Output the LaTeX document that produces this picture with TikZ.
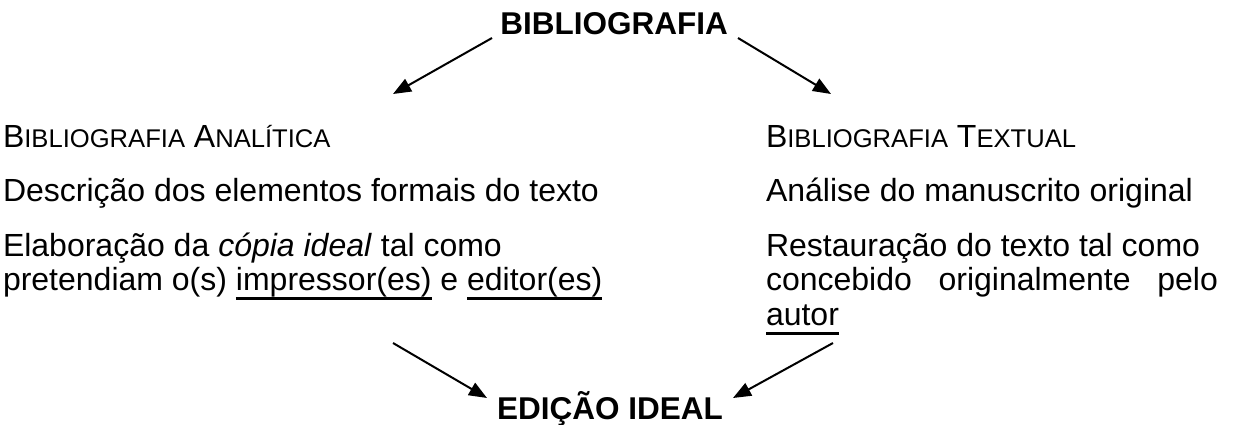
\documentclass[tikz,border=0pt]{standalone}
\usepackage{fontspec}
\setmainfont{Liberation Sans}
\usetikzlibrary{arrows.meta}
\newsavebox\ulbox
\newcommand\undl[1]{\leavevmode\sbox\ulbox{#1}\rlap{\rule[-9.5pt]{\wd\ulbox}{2.5pt}}\usebox\ulbox}
\newcommand\fsc[2]{#1{\fontsize{25.6}{30}\selectfont #2}}
\begin{document}
\begin{tikzpicture}[x=1pt,y=-1pt,
  every node/.style={inner sep=0pt, outer sep=0pt},
  body/.style={font=\fontsize{32}{36}\selectfont, anchor=base west},
  ttl/.style={font=\bfseries\fontsize{31.5}{36}\selectfont, anchor=base},
  arr/.style={line width=2pt, -{Triangle[length=18pt,width=14pt]}}]
\useasboundingbox (0,0) rectangle (1233,425);

\node[ttl] (bib) at (614,35) {BIBLIOGRAFIA};
\node[ttl] (ed) at (610,419) {EDIÇÃO IDEAL};

% left column
\node[body] (anal) at (3,147) {\fsc{B}{IBLIOGRAFIA} \fsc{A}{NALÍTICA}};
\node[body] (desc) at (3,201) {Descrição dos elementos formais do texto};
\node[body] (elab1) at (3,256) {Elaboração da \textit{cópia ideal} tal como};
\node[body] (elab2) at (3,290) {pretendiam o(s) \undl{impressor(es)} e \undl{editor(es)}};

% right column
\node[body] (text) at (766,147) {\fsc{B}{IBLIOGRAFIA} \fsc{T}{EXTUAL}};
\node[body] (anmo) at (766,201) {Análise do manuscrito original};
\node[body] (rest1) at (766,256) {Restauração do texto tal como};
\node[body] (rest2) at (766,290) {\makebox[452pt][s]{concebido originalmente pelo}};
\node[body] (rest3) at (766,325) {\undl{autor}};

% arrow end points
\coordinate (ulS) at (492,38);
\coordinate (ulT) at (393,94);
\coordinate (urS) at (738,38);
\coordinate (urT) at (831,94);
\coordinate (llS) at (393,343);
\coordinate (llT) at (487,398);
\coordinate (lrS) at (833,343);
\coordinate (lrT) at (733,398);

\draw[arr] (ulS) -- (ulT);
\draw[arr] (urS) -- (urT);
\draw[arr] (llS) -- (llT);
\draw[arr] (lrS) -- (lrT);
\end{tikzpicture}
\end{document}
